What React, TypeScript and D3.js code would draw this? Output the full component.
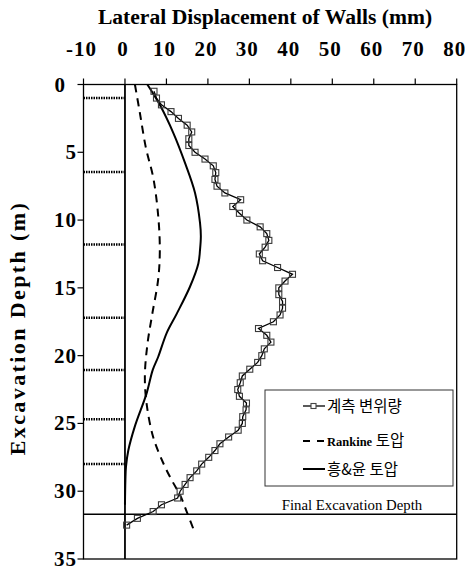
import React from "react";
import * as d3 from "d3";

const xTicks = [-10, 0, 10, 20, 30, 40, 50, 60, 70, 80];
const yTicks = [0, 5, 10, 15, 20, 25, 30, 35];

const measuredDepth = [
  0.5, 1, 1.5, 2, 2.5, 3, 3.5, 4, 4.5, 5, 5.5, 6, 6.5, 7, 7.5, 8, 8.5, 9, 9.5, 10,
  10.5, 11, 11.5, 12, 12.5, 13, 13.5, 14, 14.5, 15, 15.5, 16, 16.5, 17, 17.5, 18,
  18.5, 19, 19.5, 20, 20.5, 21, 21.5, 22, 22.5, 23, 23.5, 24, 24.5, 25, 25.5, 26,
  26.5, 27, 27.5, 28, 28.5, 29, 29.5, 30, 30.5, 31, 31.5, 32, 32.5,
];
const measuredDisp = [
  7.0, 7.6, 8.8, 11.1, 12.9, 15.0, 16.1, 15.4, 15.4, 16.9, 19.3, 21.3, 21.9, 21.7, 22.2, 24.1, 27.9, 26.0, 27.6, 29.4,
  32.6, 34.2, 34.7, 33.8, 32.4, 33.2, 36.8, 40.4, 38.6, 37.1, 37.1, 38.0, 38.0, 37.4, 35.8, 32.2,
  34.2, 35.2, 33.6, 33.0, 32.0, 30.1, 28.3, 27.8, 27.2, 27.6, 29.3, 29.2, 28.4, 28.3, 27.3, 25.0,
  22.9, 21.7, 20.2, 18.5, 17.3, 15.7, 14.5, 13.3, 12.7, 8.8, 6.8, 3.0, 0.4,
];

const hongDepth = [0, 1.5, 3.6, 5.8, 8.0, 10.2, 11.2, 12.2, 13.2, 14.9, 16.9, 18.3, 20.1, 21.05, 22.8, 25.2, 27.0, 28.2, 29.2, 31.0];
const hongDisp = [5.4, 8.4, 11.7, 14.5, 16.9, 18.1, 18.3, 18.1, 17.7, 15.7, 12.5, 10.1, 8.0, 6.7, 5.2, 2.4, 0.8, 0.24, 0.1, 0];

const rankDepth = [0, 2.1, 4.6, 7.0, 10.0, 12.4, 14.4, 16.9, 19.2, 21.5, 23.5, 26.0, 27.9, 29.2, 30.3, 31.6, 33.1];
const rankDisp = [2.4, 3.6, 5.0, 6.9, 8.1, 8.4, 8.0, 6.6, 5.4, 4.8, 5.2, 6.8, 9.2, 11.3, 13.3, 15.0, 16.9];

const strutDepths = [1.0, 6.45, 11.8, 17.2, 21.05, 24.7, 28.0];
const finalDepth = 31.7;

const legendLabels = ["계측 변위량", "Rankine", "흥&윤 토압"];

const serif = "'Liberation Serif', 'Times New Roman', serif";
const kr = "'Noto Sans CJK KR', sans-serif";

export default function App() {
  const x = d3.scaleLinear().domain([-10, 80]).range([83.5, 456.7]);
  const y = d3.scaleLinear().domain([0, 35]).range([84.5, 559]);

  const mPts = measuredDepth.map((d, i) => [measuredDisp[i], d] as [number, number]);
  const hPts = hongDepth.map((d, i) => [hongDisp[i], d] as [number, number]);
  const rPts = rankDepth.map((d, i) => [rankDisp[i], d] as [number, number]);

  const straight = d3.line<[number, number]>().x((p) => x(p[0])).y((p) => y(p[1]));
  const smooth = d3
    .line<[number, number]>()
    .x((p) => x(p[0]))
    .y((p) => y(p[1]))
    .curve(d3.curveCatmullRom.alpha(0.5));

  const [x0, x1] = x.range();
  const [y0, y1] = y.range();

  return (
    <svg width={465} height={572} style={{ position: "absolute", left: 0, top: 0 }}>
      <rect width={465} height={572} fill="#fff" />
      {/* Title */}
      <text x={265} y={24} textAnchor="middle" fontFamily={serif} fontWeight="bold" fontSize={21.6}>
        Lateral Displacement of Walls (mm)
      </text>
      {/* Y title */}
      <text
        transform={`translate(25,328) rotate(-90)`}
        textAnchor="middle"
        fontFamily={serif}
        fontWeight="bold"
        fontSize={22}
        letterSpacing={2.4}
      >
        Excavation Depth (m)
      </text>

      {/* plot frame */}
      <rect x={x0} y={y0} width={x1 - x0} height={y1 - y0} fill="none" stroke="#000" strokeWidth={1.3} />

      {/* top ticks & labels */}
      {xTicks.map((t) => (
        <g key={"xt" + t}>
          <line x1={x(t)} x2={x(t)} y1={y0 - 6} y2={y0} stroke="#000" strokeWidth={1.2} />
          <text x={x(t) - 2} y={56} textAnchor="middle" fontFamily={serif} fontWeight="bold" fontSize={21} letterSpacing={1}>
            {t}
          </text>
        </g>
      ))}
      {/* left ticks & labels */}
      {yTicks.map((t) => (
        <g key={"yt" + t}>
          <line x1={x0 - 6} x2={x0} y1={y(t)} y2={y(t)} stroke="#000" strokeWidth={1.2} />
          <text
            x={t === 0 ? 66 : 77}
            y={y(t) + 7}
            textAnchor="end"
            fontFamily={serif}
            fontWeight="bold"
            fontSize={21}
            letterSpacing={1}
          >
            {t}
          </text>
        </g>
      ))}

      {/* wall */}
      <line x1={x(0)} x2={x(0)} y1={y0} y2={y1} stroke="#000" strokeWidth={1.8} />
      {/* struts */}
      {strutDepths.map((d) => (
        <line
          key={"s" + d}
          x1={x0}
          x2={x(0)}
          y1={y(d)}
          y2={y(d)}
          stroke="#000"
          strokeWidth={2.5}
          strokeDasharray="1.5,1"
        />
      ))}

      {/* final excavation depth */}
      <line x1={x0} x2={x1} y1={y(finalDepth)} y2={y(finalDepth)} stroke="#000" strokeWidth={1.3} />
      <text x={352} y={y(finalDepth) - 4.5} textAnchor="middle" fontFamily={serif} fontSize={14.8}>
        Final Excavation Depth
      </text>

      {/* Rankine dashed */}
      <path d={smooth(rPts) || ""} fill="none" stroke="#000" strokeWidth={2} strokeDasharray="8,6" />
      {/* Hong & Yun solid */}
      <path d={smooth(hPts) || ""} fill="none" stroke="#000" strokeWidth={2} />
      {/* measured */}
      <path d={straight(mPts) || ""} fill="none" stroke="#000" strokeWidth={1.3} />
      {mPts.map((p, i) => (
        <rect
          key={"m" + i}
          x={x(p[0]) - 3}
          y={y(p[1]) - 3}
          width={6}
          height={6}
          fill="none"
          stroke="#3a3a3a"
          strokeWidth={1.1}
        />
      ))}

      {/* legend */}
      <rect x={265} y={390} width={188} height={96} fill="#fff" stroke="#333" strokeWidth={1} />
      <g>
        <line x1={303} x2={325} y1={406} y2={406} stroke="#000" strokeWidth={1.3} />
        <rect x={311} y={403.5} width={5} height={5} fill="#fff" stroke="#444" strokeWidth={1.1} />
        <text x={327} y={411.5} fontFamily={kr} fontSize={15.5}>
          {legendLabels[0]}
        </text>
      </g>
      <g>
        <line x1={303} x2={325} y1={441} y2={441} stroke="#000" strokeWidth={2} strokeDasharray="7,7" />
        <text x={327} y={446} fontFamily={serif} fontWeight="bold" fontSize={12.5}>
          {legendLabels[1]}
          <tspan fontFamily={kr} fontWeight="normal" fontSize={15.5}> 토압</tspan>
        </text>
      </g>
      <g>
        <line x1={303} x2={325} y1={469} y2={469} stroke="#000" strokeWidth={2} />
        <text x={327} y={474.5} fontFamily={kr} fontSize={15.5}>
          {legendLabels[2]}
        </text>
      </g>
    </svg>
  );
}
